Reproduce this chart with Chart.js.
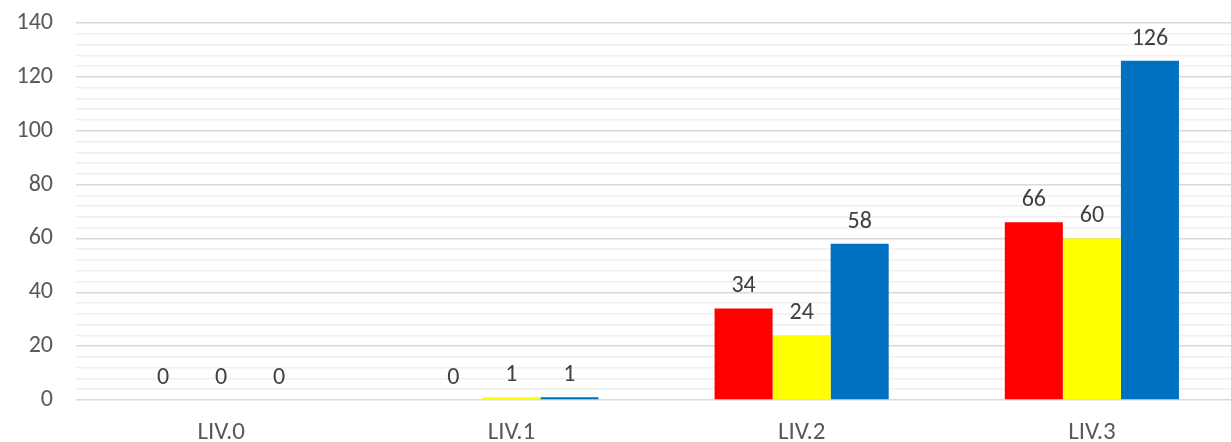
<!DOCTYPE html>
<html>
<head>
<meta charset="utf-8">
<script src="https://cdn.jsdelivr.net/npm/chart.js@4"></script>
<style>
  html, body { margin: 0; padding: 0; background: #fff; overflow: hidden; }
  #wrap { width: 1237px; height: 442px; }
</style>
</head>
<body>
<div id="wrap"><canvas id="levels"></canvas></div>
<script>
  const categories = ["LIV.0", "LIV.1", "LIV.2", "LIV.3"];
  const redValues = [0, 0, 34, 66];
  const yellowValues = [0, 1, 24, 60];
  const blueValues = [0, 1, 58, 126];
  const yMax = 140;
  const yStep = 4;
  const yLabelStep = 20;

  const FONT = "Calibri, Carlito, Lato, 'Open Sans', sans-serif";

  // values above each bar
  const barLabels = {
    id: "barLabels",
    afterDatasetsDraw(chart) {
      const ctx = chart.ctx;
      ctx.save();
      ctx.font = "24px " + FONT;
      ctx.fillStyle = "#404040";
      ctx.textAlign = "center";
      ctx.textBaseline = "alphabetic";
      chart.data.datasets.forEach((ds, i) => {
        chart.getDatasetMeta(i).data.forEach((bar, j) => {
          ctx.fillText(String(ds.data[j]), bar.x, bar.y - 16);
        });
      });
      ctx.restore();
    },
  };

  new Chart(document.getElementById("levels"), {
    type: "bar",
    data: {
      labels: categories,
      datasets: [
        { label: "A", data: redValues, backgroundColor: "#ff0000" },
        { label: "B", data: yellowValues, backgroundColor: "#ffff00" },
        { label: "C", data: blueValues, backgroundColor: "#0070c0" },
      ],
    },
    options: {
      responsive: true,
      maintainAspectRatio: false,
      animation: false,
      layout: { padding: { top: 23, right: 0, left: 0, bottom: 0 } },
      datasets: { bar: { barPercentage: 1, categoryPercentage: 0.6, borderWidth: 0 } },
      plugins: { legend: { display: false }, tooltip: { enabled: false } },
      scales: {
        x: {
          grid: { display: false },
          border: { display: false },
          ticks: { color: "#595959", font: { family: FONT, size: 25 }, padding: 10 },
          afterFit: (scale) => { scale.height = 42; },
        },
        y: {
          min: 0,
          max: yMax,
          border: { display: false },
          grid: {
            drawTicks: false,
            lineWidth: 1.5,
            color: (c) => (c.tick.value % yLabelStep === 0 ? "#d9d9d9" : "#f0f0f0"),
          },
          ticks: {
            stepSize: yStep,
            autoSkip: false,
            color: "#595959",
            font: { family: FONT, size: 24 },
            padding: 23,
            callback: (v) => (v % yLabelStep === 0 ? v : ""),
          },
          afterFit: (scale) => {
            scale.width = 76;
            scale.paddingTop = 0;
            scale.paddingBottom = 0;
          },
        },
      },
    },
    plugins: [barLabels],
  });
</script>
</body>
</html>
